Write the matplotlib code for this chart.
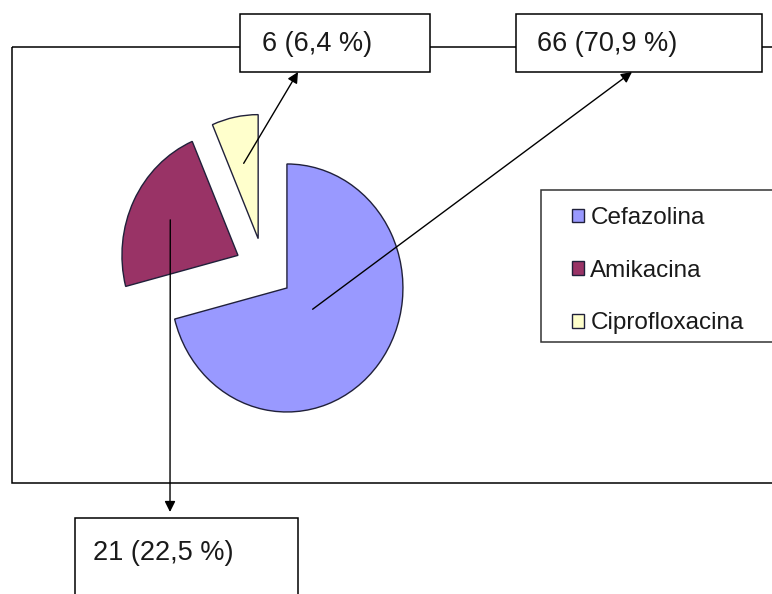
import numpy as np
import matplotlib.pyplot as plt
from matplotlib.patches import Rectangle

plt.rcParams['font.family'] = 'Liberation Sans'

# data
antibiotics = ['Cefazolina', 'Amikacina', 'Ciprofloxacina']
counts = [66, 21, 6]
percents = ['70,9', '22,5', '6,4']
colors = ['#9999ff', '#993366', '#ffffcc']

W, H = 772, 594
fig = plt.figure(figsize=(W / 100, H / 100), dpi=100)

# pie axes: centre (264, 269) px, radius 116 px wide x 124 px tall
cx, cy, rx, ry = 264, 269, 116, 124
pie_ax = fig.add_axes([(cx - 1.5 * rx) / W, 1 - (cy + 1.5 * ry) / H, 3 * rx / W, 3 * ry / H])
wedges, _ = pie_ax.pie(counts, colors=colors, startangle=90, counterclock=False,
                       explode=[0.25] * 3,
                       wedgeprops=dict(edgecolor='#20203a', linewidth=1))
pie_ax.set_aspect('auto')
pie_ax.set_xlim(-1.5, 1.5)
pie_ax.set_ylim(-1.5, 1.5)
pie_ax.axis('off')

# overlay in pixel coords for frame, boxes, arrows, legend
ax = fig.add_axes([0, 0, 1, 1], zorder=2)
ax.set_xlim(0, W)
ax.set_ylim(H, 0)
ax.axis('off')

# outer chart frame (runs off the right edge)
ax.add_patch(Rectangle((12, 47), 820, 436, fill=False, ec='black', lw=1.1, zorder=1))

# label boxes: rect, text anchor, arrow tip, where the leader starts inside the slice
box_rects = [(516, 14, 246, 58), (75, 518, 223, 100), (240, 14, 190, 58)]
text_pos = [(537, 44), (93, 553), (262, 44)]
arrow_tips = [(632, 72), (170, 512), (298, 72)]
lead_frac = [0.28, 0.65, 0.62]

for w, n, p, rect, tp, tip, f in zip(wedges, counts, percents, box_rects,
                                     text_pos, arrow_tips, lead_frac):
    ang = np.deg2rad((w.theta1 + w.theta2) / 2)
    start = (w.center[0] + f * w.r * np.cos(ang), w.center[1] + f * w.r * np.sin(ang))
    ax.annotate('', xy=tip, xycoords='data', xytext=start, textcoords=pie_ax.transData,
                arrowprops=dict(arrowstyle='-|>', color='black', lw=1,
                                shrinkA=0, shrinkB=0, mutation_scale=16), zorder=3)
    ax.add_patch(Rectangle(rect[:2], rect[2], rect[3], fc='white', ec='black', lw=1.1, zorder=4))
    ax.text(tp[0], tp[1], f'{n} ({p} %)', fontsize=19.5, color='#1a1a1a',
            ha='left', va='center', zorder=5)

# legend
ax.add_patch(Rectangle((541, 190), 300, 152, fc='white', ec='#333333', lw=1.1, zorder=4))
leg = ax.legend(wedges, antibiotics, loc='upper left',
                bbox_to_anchor=(560 / W, 1 - 195 / H), bbox_transform=fig.transFigure,
                frameon=False, borderpad=0, fontsize=17.5, handlelength=0.5,
                handleheight=0.5, handletextpad=0.25, labelspacing=1.26)
leg.set_zorder(6)
for t in leg.get_texts():
    t.set_color('#1a1a1a')

fig.savefig('out.png', dpi=100)
